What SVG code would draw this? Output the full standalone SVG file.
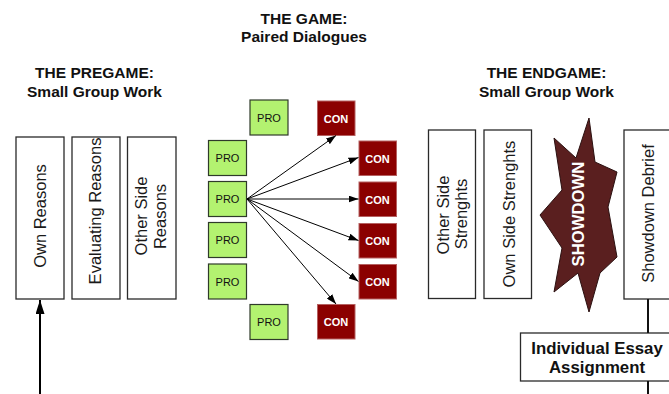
<svg xmlns="http://www.w3.org/2000/svg" width="669" height="394" viewBox="0 0 669 394">
<defs>
<style>
.hd{font-family:"Liberation Sans",Arial,sans-serif;font-weight:bold;font-size:15.5px;fill:#111;text-anchor:middle}
.bx{fill:#fff;stroke:#2a2a2a;stroke-width:1.3}
.vt{font-family:"Liberation Sans",Arial,sans-serif;font-size:16.5px;fill:#1a1a1a;text-anchor:middle}
.pro{fill:#b3f270;stroke:#2f3a2a;stroke-width:1.2}
.con{fill:#8b0000;stroke:#b56060;stroke-width:1}
.pt{font-family:"Liberation Sans",Arial,sans-serif;font-size:11px;fill:#111;text-anchor:middle}
.ct{font-family:"Liberation Sans",Arial,sans-serif;font-size:11px;font-weight:bold;fill:#fff;text-anchor:middle}
.ar{stroke:#000;stroke-width:1;fill:none;marker-end:url(#ah)}
</style>
<marker id="ah" markerUnits="userSpaceOnUse" markerWidth="10" markerHeight="7" refX="10" refY="3.5" orient="auto">
<path d="M0,0 L10,3.5 L0,7 z" fill="#000"/>
</marker>
<marker id="ahb" markerUnits="userSpaceOnUse" markerWidth="14" markerHeight="9" refX="14" refY="4.5" orient="auto">
<path d="M0,0 L14,4.5 L0,9 z" fill="#000"/>
</marker>
</defs>

<g id="headers">
<text class="hd" x="304" y="24">THE GAME:</text>
<text class="hd" x="304" y="42">Paired Dialogues</text>
<text class="hd" x="94.5" y="78">THE PREGAME:</text>
<text class="hd" x="94.5" y="97">Small Group Work</text>
<text class="hd" x="546.5" y="78">THE ENDGAME:</text>
<text class="hd" x="546.5" y="97">Small Group Work</text>
</g>

<g id="own-reasons">
<rect class="bx" x="16" y="137" width="48" height="162"/>
<text class="vt" transform="translate(45.5,216) rotate(-90)">Own Reasons</text>
</g>
<g id="evaluating-reasons">
<rect class="bx" x="72" y="137" width="48" height="162"/>
<text class="vt" transform="translate(101,211) rotate(-90)">Evaluating Reasons</text>
</g>
<g id="other-side-reasons">
<rect class="bx" x="127.5" y="137" width="48.5" height="162"/>
<text class="vt" transform="translate(147,216) rotate(-90)">Other Side</text>
<text class="vt" transform="translate(165.5,216.5) rotate(-90)">Reasons</text>
</g>

<g id="pro-top"><rect class="pro" x="250" y="100" width="38" height="35"/><text class="pt" x="269" y="121.5">PRO</text></g>
<g id="pro-1"><rect class="pro" x="208.5" y="140.5" width="38" height="35"/><text class="pt" x="227.5" y="162">PRO</text></g>
<g id="pro-2"><rect class="pro" x="208.5" y="181.5" width="38" height="35"/><text class="pt" x="227.5" y="203">PRO</text></g>
<g id="pro-3"><rect class="pro" x="208.5" y="222.5" width="38" height="35"/><text class="pt" x="227.5" y="244">PRO</text></g>
<g id="pro-4"><rect class="pro" x="208.5" y="264" width="38" height="35"/><text class="pt" x="227.5" y="285.5">PRO</text></g>
<g id="pro-bottom"><rect class="pro" x="250" y="304.5" width="38" height="35"/><text class="pt" x="269" y="326">PRO</text></g>

<g id="con-top"><rect class="con" x="317.5" y="101" width="37.5" height="34.5"/><text class="ct" x="336" y="122.5">CON</text></g>
<g id="con-1"><rect class="con" x="359" y="141" width="37.5" height="34.5"/><text class="ct" x="377.5" y="162.5">CON</text></g>
<g id="con-2"><rect class="con" x="359" y="182" width="37.5" height="34.5"/><text class="ct" x="377.5" y="203.5">CON</text></g>
<g id="con-3"><rect class="con" x="359" y="223.5" width="37.5" height="34.5"/><text class="ct" x="377.5" y="245">CON</text></g>
<g id="con-4"><rect class="con" x="359" y="264.5" width="37.5" height="34.5"/><text class="ct" x="377.5" y="286">CON</text></g>
<g id="con-bottom"><rect class="con" x="317.5" y="304.5" width="37.5" height="34.5"/><text class="ct" x="336" y="326">CON</text></g>

<g id="other-side-strenghts">
<rect class="bx" x="428.5" y="130" width="47" height="168.5"/>
<text class="vt" transform="translate(448.5,215) rotate(-90)">Other Side</text>
<text class="vt" transform="translate(467,214) rotate(-90)">Strenghts</text>
</g>
<g id="own-side-strenghts">
<rect class="bx" x="484" y="130" width="47.5" height="168.5"/>
<text class="vt" transform="translate(515,214) rotate(-90)">Own Side Strenghts</text>
</g>
<g id="showdown">
<polygon points="589,118 595,162 617,172 608,207 617,257 600,273 589,312 578,273 554,292 562,248 540,215 562,190 554,138 576,158" fill="#5a1f1f" stroke="#2a1010" stroke-width="1"/>
<text class="vt" style="font-weight:bold;fill:#fff;font-size:16.7px" transform="translate(583.5,214) rotate(-90)">SHOWDOWN</text>
</g>
<g id="showdown-debrief">
<rect class="bx" x="624" y="130" width="50" height="169"/>
<text class="vt" transform="translate(653.5,213.5) rotate(-90)">Showdown Debrief</text>
</g>
<g id="individual-essay">
<rect class="bx" x="520.5" y="333" width="155" height="48"/>
<text class="hd" style="font-size:16.8px" x="597" y="353.5">Individual Essay</text>
<text class="hd" style="font-size:16.8px" x="597" y="373">Assignment</text>
</g>

<g id="connectors">
<line class="ar" x1="247" y1="199" x2="336" y2="135.5"/>
<line class="ar" x1="247" y1="199" x2="358.5" y2="157.5"/>
<line class="ar" x1="247" y1="199" x2="358.5" y2="199"/>
<line class="ar" x1="247" y1="199" x2="358.5" y2="240.5"/>
<line class="ar" x1="247" y1="199" x2="358.5" y2="281.5"/>
<line class="ar" x1="247" y1="199" x2="336" y2="304"/>
<line x1="40" y1="394" x2="40" y2="300" stroke="#000" stroke-width="2" marker-end="url(#ahb)"/>
<line x1="648" y1="299" x2="648" y2="333" stroke="#111" stroke-width="2"/>
<line x1="648" y1="381" x2="648" y2="394" stroke="#111" stroke-width="2"/>
</g>
</svg>
